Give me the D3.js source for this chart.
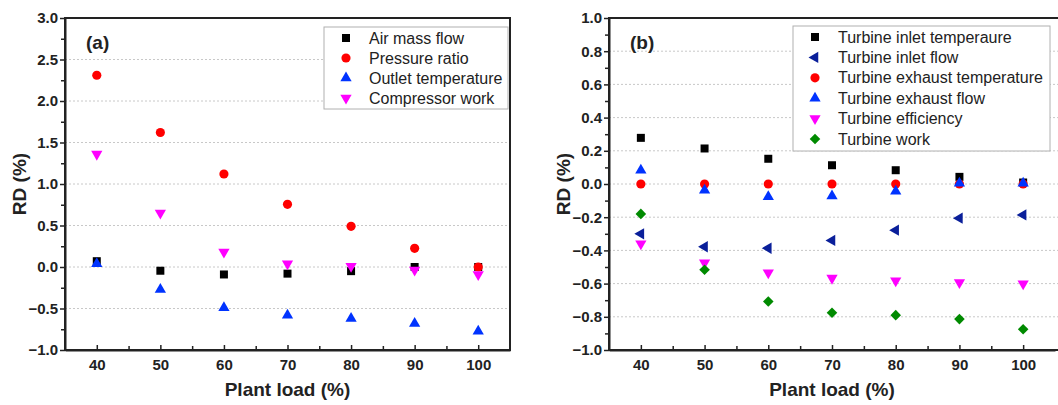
<!DOCTYPE html>
<meta charset="utf-8">
<script src="https://d3js.org/d3.v7.min.js"></script>
<style>
  body { margin: 0; background: #fff; }
  text { font-family: Arial, "Liberation Sans", sans-serif; }
</style>
<div id="my_dataviz"></div>
<script>

// plant load categories (shared by both panels)
var loads = [40, 50, 60, 70, 80, 90, 100];

// (a) compressor
var airMassFlow   = [0.07, -0.045, -0.09, -0.08, -0.05, 0.0, 0.0];
var pressureRatio = [2.31, 1.62, 1.12, 0.755, 0.49, 0.225, 0.0];
var outletTemp    = [0.04, -0.27, -0.49, -0.58, -0.62, -0.68, -0.775];
var compWork      = [1.36, 0.65, 0.18, 0.04, 0.01, -0.035, -0.09];

// (b) turbine
var turbInletTemp   = [0.278, 0.214, 0.152, 0.113, 0.083, 0.043, 0.009];
var turbInletFlow   = [-0.30, -0.378, -0.387, -0.34, -0.278, -0.206, -0.186];
var turbExhaustTemp = [0.0, 0.0, 0.0, 0.0, 0.0, 0.0, 0.0];
var turbExhaustFlow = [0.083, -0.037, -0.077, -0.073, -0.043, 0.005, 0.005];
var turbEfficiency  = [-0.36, -0.475, -0.535, -0.567, -0.583, -0.593, -0.601];
var turbWork        = [-0.18, -0.517, -0.708, -0.776, -0.79, -0.814, -0.875];

var xTicks = [40, 50, 60, 70, 80, 90, 100];
var yTicksA = [-1.0, -0.5, 0.0, 0.5, 1.0, 1.5, 2.0, 2.5, 3.0];
var yTicksB = [-1.0, -0.8, -0.6, -0.4, -0.2, 0.0, 0.2, 0.4, 0.6, 0.8, 1.0];

var svg = d3.select("#my_dataviz")
  .append("svg")
    .attr("width", 1058)
    .attr("height", 405);

// marker shapes
var shapes = {
  square:   { type: d3.symbolSquare,   size: 64,  rot: 0 },
  circle:   { type: d3.symbolCircle,   size: 66,  rot: 0 },
  up:       { type: d3.symbolTriangle, size: 55,  rot: 0 },
  down:     { type: d3.symbolTriangle, size: 55,  rot: 180 },
  left:     { type: d3.symbolTriangle, size: 55,  rot: -90 },
  diamond:  { type: d3.symbolSquare,   size: 56,  rot: 45 }
};

function marker(g, shape, color, x, y) {
  var s = shapes[shape];
  g.append("path")
    .attr("d", d3.symbol().type(s.type).size(s.size)())
    .attr("transform", "translate(" + x + "," + y + ") rotate(" + s.rot + ")")
    .attr("fill", color);
}

function drawPanel(p) {
  var g = svg.append("g");

  var x = d3.scaleLinear().domain([35, 105]).range([p.left, p.right]);
  var y = d3.scaleLinear().domain(p.yDomain).range([350, 18]);

  // dotted grid at major y ticks
  g.selectAll(".grid")
    .data(p.yTicks.slice(1, -1))
    .enter().append("line")
      .attr("x1", p.left).attr("x2", p.frameRight)
      .attr("y1", function(d) { return y(d); })
      .attr("y2", function(d) { return y(d); })
      .attr("stroke", "#c8c8c8")
      .attr("stroke-width", 1)
      .attr("stroke-dasharray", "2,2");

  // frame
  g.append("rect")
    .attr("x", p.left).attr("y", 18)
    .attr("width", p.frameRight - p.left).attr("height", 332)
    .attr("fill", "none").attr("stroke", "#222").attr("stroke-width", 2);

  // Y axis (ticks outward)
  g.append("g")
    .attr("transform", "translate(" + p.left + ",0)")
    .call(d3.axisLeft(y).tickValues(p.yTicks).tickSize(5).tickSizeOuter(0).tickPadding(2)
      .tickFormat(d3.format(".1f")));
  g.append("g")
    .attr("transform", "translate(" + p.left + ",0)")
    .call(d3.axisLeft(y).tickValues(p.yMinor).tickSize(4).tickFormat(""))
    .call(function(a) { a.select(".domain").remove(); });

  // X axis (ticks inward)
  g.append("g")
    .attr("transform", "translate(0,350)")
    .call(d3.axisBottom(x).tickValues(xTicks).tickSize(-5).tickSizeOuter(0).tickPadding(9));
  g.append("g")
    .attr("transform", "translate(0,350)")
    .call(d3.axisBottom(x).tickValues([45, 55, 65, 75, 85, 95]).tickSize(-4).tickFormat(""))
    .call(function(a) { a.select(".domain").remove(); });

  g.selectAll(".domain").attr("stroke", "#222").attr("stroke-width", 2);
  g.selectAll(".tick line").attr("stroke", "#222").attr("stroke-width", 1.5);
  g.selectAll(".tick text")
    .attr("font-size", 15).attr("font-weight", "bold").attr("fill", "#222")
    .style("font-family", "Arial, 'Liberation Sans', sans-serif");

  // panel label
  g.append("text")
    .attr("x", p.left + 21).attr("y", 49)
    .attr("font-size", 19).attr("font-weight", "bold").attr("fill", "#222")
    .text(p.tag);

  // axis titles
  g.append("text")
    .attr("x", (p.left + p.right) / 2).attr("y", 396)
    .attr("text-anchor", "middle")
    .attr("font-size", 19).attr("font-weight", "bold").attr("fill", "#222")
    .text("Plant load (%)");
  g.append("text")
    .attr("transform", "translate(" + (p.left - 39) + ",184) rotate(-90)")
    .attr("text-anchor", "middle")
    .attr("font-size", 19).attr("font-weight", "bold").attr("fill", "#222")
    .text("RD (%)");

  // legend
  var lg = g.append("g");
  lg.append("rect")
    .attr("x", p.legend.x).attr("y", p.legend.y)
    .attr("width", p.legend.w).attr("height", p.legend.h)
    .attr("fill", "#fff").attr("stroke", "#b0b0b0").attr("stroke-width", 1);
  p.series.forEach(function(s, i) {
    var ly = p.legend.y + 11 + i * p.legend.step;
    marker(lg, s.shape, s.color, p.legend.x + 22, ly);
    lg.append("text")
      .attr("x", p.legend.x + 45).attr("y", ly + 5.5)
      .attr("font-size", 16).attr("fill", "#222")
      .text(s.name);
  });

  // points
  p.series.forEach(function(s) {
    s.values.forEach(function(v, i) {
      marker(g, s.shape, s.color, x(loads[i]), y(v));
    });
  });
}

drawPanel({
  tag: "(a)", left: 65, right: 510, frameRight: 510,
  yDomain: [-1, 3], yTicks: yTicksA,
  yMinor: d3.range(-0.75, 3, 0.5),
  legend: { x: 324, y: 27, w: 184, h: 82, step: 20 },
  series: [
    { name: "Air mass flow",        shape: "square", color: "#000000", values: airMassFlow },
    { name: "Pressure ratio",       shape: "circle", color: "#ff0000", values: pressureRatio },
    { name: "Outlet temperature",   shape: "up",     color: "#0033ff", values: outletTemp },
    { name: "Compressor work",      shape: "down",   color: "#ff00ff", values: compWork }
  ]
});

drawPanel({
  tag: "(b)", left: 609, right: 1055, frameRight: 1060,
  yDomain: [-1, 1], yTicks: yTicksB,
  yMinor: d3.range(-0.9, 1, 0.2),
  legend: { x: 793, y: 26, w: 257, h: 125, step: 20.4 },
  series: [
    { name: "Turbine inlet temperaure",     shape: "square",  color: "#000000", values: turbInletTemp },
    { name: "Turbine inlet flow",           shape: "left",    color: "#0a1f9a", values: turbInletFlow },
    { name: "Turbine exhaust temperature",  shape: "circle",  color: "#ff0000", values: turbExhaustTemp },
    { name: "Turbine exhaust flow",         shape: "up",      color: "#0033ff", values: turbExhaustFlow },
    { name: "Turbine efficiency",           shape: "down",    color: "#ff00ff", values: turbEfficiency },
    { name: "Turbine work",                 shape: "diamond", color: "#008a00", values: turbWork }
  ]
});

</script>
